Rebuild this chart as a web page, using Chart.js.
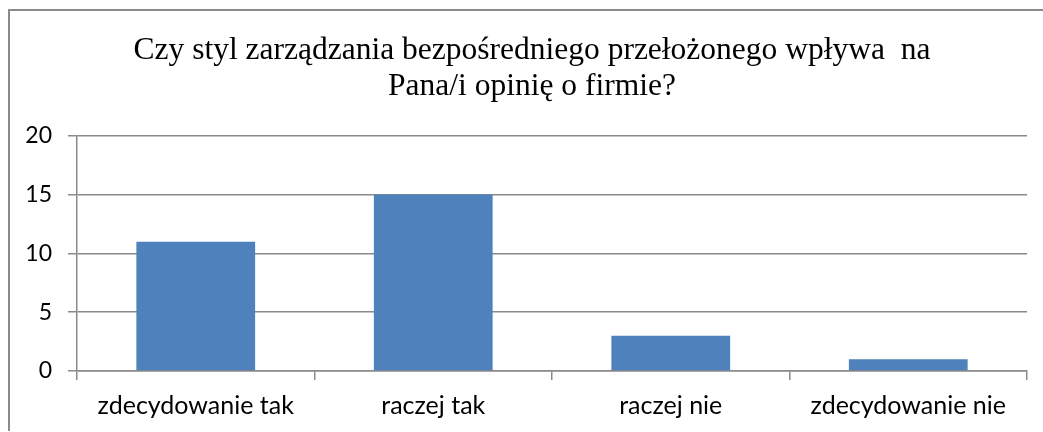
<!DOCTYPE html>
<html>
<head>
<meta charset="utf-8">
<script src="https://cdn.jsdelivr.net/npm/chart.js@4"></script>
<style>
  html, body { margin: 0; padding: 0; background: #fff; overflow: hidden; }
  #box {
    position: absolute; left: 8px; top: 9px;
    border-left: 2px solid #8a8a8a; border-top: 2px solid #8a8a8a;
    width: 1044px; height: 420px;
  }
  #chart { display: block; }
</style>
</head>
<body>
<div id="box"><canvas id="chart" width="1044" height="420"></canvas></div>
<script>
const titleLines = ["Czy styl zarządzania bezpośredniego przełożonego wpływa  na", "Pana/i opinię o firmie?"];
const categories = ["zdecydowanie tak", "raczej tak", "raczej nie", "zdecydowanie nie"];
const values = [11, 15, 3, 1];
const yTicks = [0, 5, 10, 15, 20];

const gridColor = "#8a8a8a";

new Chart(document.getElementById("chart"), {
    type: "bar",
    data: {
        labels: categories,
        datasets: [{
            data: values,
            backgroundColor: "#4F81BD",
            borderWidth: 0,
            barPercentage: 0.5,
            categoryPercentage: 1
        }]
    },
    options: {
        responsive: false,
        animation: false,
        layout: { padding: 0 },
        plugins: {
            legend: { display: false },
            tooltip: { enabled: false },
            title: {
                display: true,
                text: titleLines,
                color: "#000",
                font: { family: "'Liberation Serif', 'Times New Roman', serif", size: 31.5, weight: "normal", lineHeight: 1.14 },
                padding: { top: 22, bottom: 31 }
            }
        },
        scales: {
            x: {
                grid: { drawOnChartArea: false, drawTicks: true, tickLength: 9, color: gridColor, lineWidth: 1.5 },
                border: { display: true, color: gridColor, width: 1.5 },
                ticks: { color: "#000", font: { family: "Lato", size: 25 }, padding: 11, maxRotation: 0 },
                afterFit: s => { s.height = 60; }
            },
            y: {
                min: 0,
                max: 20,
                afterBuildTicks: s => { s.ticks = yTicks.map(v => ({ value: v })); },
                grid: { color: gridColor, lineWidth: 1.5, tickLength: 9 },
                border: { display: true, color: gridColor, width: 1.5 },
                ticks: { color: "#000", font: { family: "Lato", size: 23 }, padding: 16 },
                afterFit: s => { s.width = 67; }
            },
            // empty right-hand box: leaves a margin right of the plot while the title stays centred on the frame
            spacer: {
                type: "linear",
                position: "right",
                grid: { display: false },
                border: { display: false },
                ticks: { display: false },
                afterFit: s => { s.width = 27; }
            }
        }
    }
});
</script>
</body>
</html>
